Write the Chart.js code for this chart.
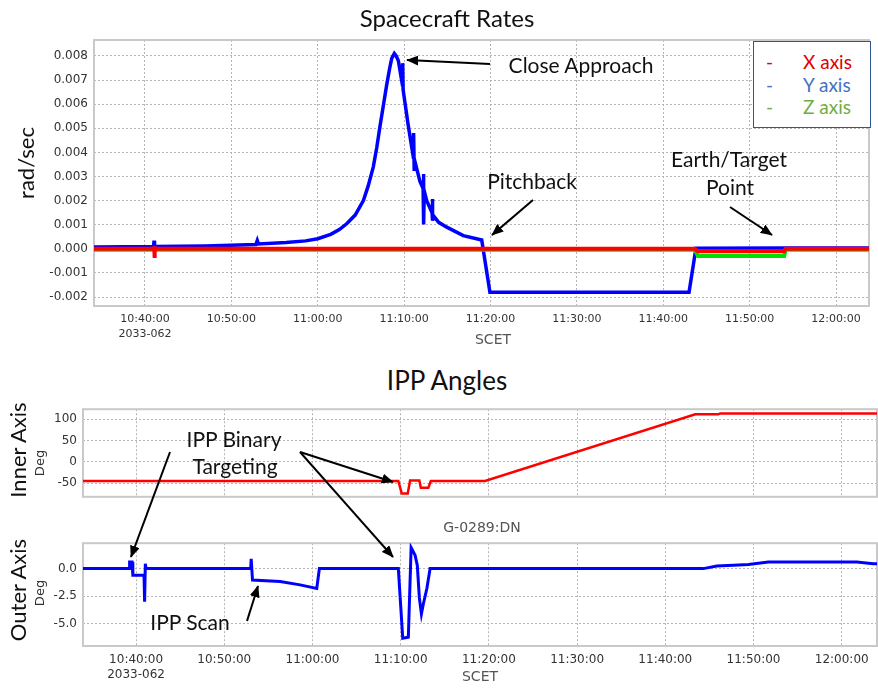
<!DOCTYPE html>
<html>
<head>
<meta charset="utf-8">
<script src="https://cdn.jsdelivr.net/npm/chart.js@4.4.0/dist/chart.umd.min.js"></script>
<style>
    body { margin: 0; width: 878px; height: 688px; position: relative; background: #fff; overflow: hidden; }
    canvas { position: absolute; left: 0; }
    .txt { position: absolute; white-space: nowrap; transform: translate(-50%, -50%); text-align: center; }
    .note { font-family: Lato, sans-serif; font-size: 21px; color: #111; line-height: 21px; }
    .title { font-family: Lato, sans-serif; font-size: 26px; color: #111; line-height: 26px; }
    .small { font-family: 'DejaVu Sans', sans-serif; font-size: 14px; color: #555; line-height: 14px; }
    .vert { transform: translate(-50%, -50%) rotate(-90deg); }
    .axisName { font-family: Lato, sans-serif; font-size: 22px; color: #111; line-height: 22px; }
    .deg { font-family: 'DejaVu Sans', sans-serif; font-size: 13px; color: #333; line-height: 13px; }
    #legend { position: absolute; left: 753px; top: 41px; width: 118px; height: 87px; border: 1.5px solid #2f5597; background: #fff;
        font-family: Lato, sans-serif; font-size: 19px; line-height: 22.5px; padding-top: 9px; box-sizing: border-box; }
    #legend div { position: relative; height: 22.5px; }
    #legend .dash { position: absolute; left: 12px; }
    #legend .lab { position: absolute; left: 49px; }
    svg { position: absolute; left: 0; top: 0; }
</style>
</head>
<body>
<canvas id="rates" width="878" height="350" style="top:0"></canvas>
<canvas id="inner" width="878" height="114" style="top:396px"></canvas>
<canvas id="outer" width="878" height="158" style="top:530px"></canvas>

<div class="txt title" style="left:447px;top:18px;font-size:24px">Spacecraft Rates</div>
<div class="txt title" style="left:447px;top:380px">IPP Angles</div>
<div class="txt axisName vert" style="left:26px;top:163px">rad/sec</div>
<div class="txt small" style="left:493px;top:339px">SCET</div>
<div class="txt small" style="left:480px;top:676px">SCET</div>
<div class="txt small" style="left:482px;top:527px">G-0289:DN</div>
<div class="txt axisName vert" style="left:18px;top:450px">Inner Axis</div>
<div class="txt deg vert" style="left:39px;top:463px">Deg</div>
<div class="txt axisName vert" style="left:18px;top:590px">Outer Axis</div>
<div class="txt deg vert" style="left:39px;top:593px">Deg</div>

<div id="legend">
    <div style="color:#e00000"><span class="dash">-</span><span class="lab">X axis</span></div>
    <div style="color:#4472c4"><span class="dash">-</span><span class="lab">Y axis</span></div>
    <div style="color:#70ad47"><span class="dash">-</span><span class="lab">Z axis</span></div>
</div>

<div class="txt note" style="left:581px;top:64px">Close Approach</div>
<div class="txt note" style="left:532px;top:180px">Pitchback</div>
<div class="txt note" style="left:729px;top:158px">Earth/Target</div>
<div class="txt note" style="left:730px;top:186px">Point</div>
<div class="txt note" style="left:234px;top:438px">IPP Binary</div>
<div class="txt note" style="left:235px;top:465px">Targeting</div>
<div class="txt note" style="left:190px;top:621px">IPP Scan</div>

<svg width="878" height="688">
    <defs>
        <marker id="ah" markerWidth="6" markerHeight="5" refX="5.6" refY="2.5" orient="auto" markerUnits="strokeWidth">
            <path d="M0,0 L6,2.5 L0,5 z" fill="#000"/>
        </marker>
    </defs>
    <g stroke="#000" stroke-width="2" marker-end="url(#ah)">
        <line x1="490" y1="64" x2="407" y2="60"/>
        <line x1="533" y1="200" x2="492" y2="235"/>
        <line x1="730" y1="207" x2="772" y2="235"/>
        <line x1="170" y1="452" x2="131" y2="557"/>
        <line x1="300" y1="452" x2="393" y2="482"/>
        <line x1="300" y1="452" x2="393" y2="557"/>
        <line x1="247" y1="621" x2="258" y2="586"/>
    </g>
</svg>

<script>
// Axis ticks
const timeTicks = ['10:40:00', '10:50:00', '11:00:00', '11:10:00', '11:20:00', '11:30:00', '11:40:00', '11:50:00', '12:00:00'];
const dayLabel = '2033-062';
const rateTicks = [-0.002, -0.001, 0, 0.001, 0.002, 0.003, 0.004, 0.005, 0.006, 0.007, 0.008];
const innerTicks = [-50, 0, 50, 100];
const outerTicks = [-5, -2.5, 0];

// Spacecraft rates (rad/sec)
const xAxisTimes = ['10:34:06', '10:41:02', '10:41:04', '10:41:06', '10:41:09', '11:43:40', '11:44:00', '11:54:00', '11:54:10', '12:03:49'];
const xAxisRates = [0, 0, 0.0001, -0.00038, 0, 0, -0.0001, -0.0001, 0, 0];

const yAxisTimes = ['10:34:06', '10:41:00', '10:41:03', '10:41:05', '10:41:08', '10:47:00', '10:52:50', '10:53:00', '10:53:08',
    '10:56:20', '10:58:36', '11:00:00', '11:01:30', '11:02:30', '11:03:21', '11:04:20', '11:05:17', '11:05:50', '11:06:26',
    '11:06:50', '11:07:13', '11:07:40', '11:07:59', '11:08:20', '11:08:34', '11:08:52', '11:09:05', '11:09:20', '11:09:48',
    '11:09:50', '11:09:53', '11:10:29', '11:11:04',
    '11:11:06', '11:11:10', '11:11:12', '11:11:50', '11:12:12', '11:12:14', '11:12:17', '11:12:20', '11:12:37', '11:13:14',
    '11:13:16', '11:13:19', '11:13:23', '11:14:00', '11:14:56', '11:16:51', '11:18:59', '11:19:56', '11:42:59', '11:43:47',
    '11:54:00', '12:03:49'];
const yAxisRates = [0.00008, 0.0001, 0.00034, -0.00005, 0.0001, 0.00012, 0.00018, 0.00035, 0.0002,
    0.00026, 0.00033, 0.00042, 0.0006, 0.0008, 0.00104, 0.0014, 0.002, 0.0026, 0.0034,
    0.0042, 0.0051, 0.0061, 0.0068, 0.0075, 0.0079, 0.0081, 0.0080, 0.0078, 0.0068,
    0.0077, 0.0066, 0.0051, 0.0038,
    0.0048, 0.0033, 0.0037, 0.0028, 0.0025, 0.0031, 0.00101, 0.0024, 0.002, 0.0015,
    0.00207, 0.00117, 0.00138, 0.0011, 0.0009, 0.00055, 0.00037, -0.0018, -0.0018, 0.00003,
    0.00004, 0.00004];

const zAxisTimes = ['10:34:06', '11:43:40', '11:44:01', '11:54:00', '11:54:10', '12:03:49'];
const zAxisRates = [-0.00004, -0.00004, -0.0003, -0.0003, -0.00004, -0.00004];

// IPP angles (deg)
const innerTimes = ['10:33:59', '11:09:44', '11:10:07', '11:10:48', '11:11:04', '11:12:07', '11:12:17', '11:13:08', '11:13:25',
    '11:19:34', '11:43:24', '11:46:00', '11:46:13', '12:04:00'];
const innerAngles = [-45, -45, -74, -74, -44, -44, -61, -61, -45, -45, 111, 111, 113, 113];

const outerTimes = ['10:33:59', '10:39:14', '10:39:16', '10:39:33', '10:39:38', '10:40:54', '10:40:58', '10:41:03', '10:41:08',
    '10:53:00', '10:53:03', '10:53:12', '10:56:20', '10:58:36', '11:00:29', '11:00:47', '11:09:44', '11:10:14', '11:10:52',
    '11:11:11', '11:11:38', '11:11:53', '11:12:07', '11:12:21', '11:12:34', '11:12:58', '11:13:20', '11:44:19', '11:45:50',
    '11:47:43', '11:49:25', '11:51:41', '12:01:43', '12:03:34', '12:04:00'];
const outerAngles = [0, 0, 0.6, 0.6, -0.6, -0.6, -3.0, 0.44, 0,
    0, 0.88, -1.03, -1.17, -1.47, -1.8, 0, 0, -6.3, -6.2,
    1.9, 1.2, 0.3, -2.65, -4.1, -3.2, -1.8, 0, 0, 0.24,
    0.3, 0.37, 0.59, 0.59, 0.44, 0.44];

function toSec(t) {
    const p = t.split(':').map(Number);
    return p[0] * 3600 + p[1] * 60 + p[2];
}
function points(times, vals) {
    return times.map((t, i) => ({ x: toSec(t), y: vals[i] }));
}

// grey box around the plot area
const framePlugin = {
    id: 'frame',
    beforeDatasetsDraw(chart) {
        const { ctx, chartArea: a } = chart;
        ctx.save();
        ctx.strokeStyle = '#c9c9c9';
        ctx.lineWidth = 2;
        ctx.strokeRect(a.left, a.top, a.right - a.left, a.bottom - a.top);
        ctx.restore();
    }
};

function gridOpts() {
    return { display: true, color: '#b4b4b4', lineWidth: 1, drawTicks: false };
}
function borderOpts() {
    return { display: false, dash: [2, 2] };
}

function timeAxis(range, showLabels, fontSize, lineHeight, height) {
    return {
        type: 'linear',
        min: toSec(range[0]),
        max: toSec(range[1]),
        grid: gridOpts(),
        border: borderOpts(),
        afterBuildTicks: s => { s.ticks = timeTicks.map(t => ({ value: toSec(t) })); },
        afterFit: s => { s.height = height; },
        ticks: {
            display: showLabels,
            autoSkip: false,
            maxRotation: 0,
            padding: 6,
            color: '#333',
            font: { family: 'DejaVu Sans', size: fontSize, lineHeight: lineHeight },
            callback: (v, i) => i === 0 ? [timeTicks[i], dayLabel] : timeTicks[i]
        }
    };
}

function valueAxis(min, max, tickVals, width, fmt) {
    return {
        min: min,
        max: max,
        grid: gridOpts(),
        border: borderOpts(),
        afterBuildTicks: s => { s.ticks = tickVals.map(v => ({ value: v })); },
        afterFit: s => { s.width = width; },
        ticks: {
            padding: 6,
            color: '#333',
            font: { family: 'DejaVu Sans', size: 12 },
            callback: (v, i) => fmt(tickVals[i])
        }
    };
}

function lineSet(data, color, width) {
    return { data: data, borderColor: color, backgroundColor: color, borderWidth: width, pointRadius: 0, tension: 0, fill: false };
}

const baseOptions = {
    responsive: false,
    animation: false,
    events: [],
    plugins: { legend: { display: false }, tooltip: { enabled: false } }
};

// Spacecraft Rates
new Chart(document.getElementById('rates'), {
    type: 'line',
    data: {
        datasets: [
            lineSet(points(xAxisTimes, xAxisRates), '#ff0000', 4),
            lineSet(points(zAxisTimes, zAxisRates), '#00e000', 4),
            lineSet(points(yAxisTimes, yAxisRates), '#0000ff', 3.5)
        ]
    },
    options: {
        ...baseOptions,
        layout: { padding: { top: 40, right: 9, left: 0, bottom: 0 } },
        scales: {
            x: timeAxis(['10:34:06', '12:03:49'], true, 11, 1.36, 44),
            y: valueAxis(-0.00237, 0.00866, rateTicks, 94, v => v.toFixed(3))
        }
    },
    plugins: [framePlugin]
});

// IPP Angles - inner axis
new Chart(document.getElementById('inner'), {
    type: 'line',
    data: { datasets: [lineSet(points(innerTimes, innerAngles), '#ff0000', 2.5)] },
    options: {
        ...baseOptions,
        layout: { padding: { top: 8, right: 1, left: 0, bottom: 3 } },
        scales: {
            x: timeAxis(['10:33:59', '12:04:00'], false, 12, 1.25, 0),
            y: valueAxis(-82, 123, innerTicks, 83, v => String(v))
        }
    },
    plugins: [framePlugin]
});

// IPP Angles - outer axis
new Chart(document.getElementById('outer'), {
    type: 'line',
    data: { datasets: [lineSet(points(outerTimes, outerAngles), '#0000ff', 3)] },
    options: {
        ...baseOptions,
        layout: { padding: { top: 11, right: 1, left: 0, bottom: 0 } },
        scales: {
            x: timeAxis(['10:33:59', '12:04:00'], true, 12, 1.25, 42),
            y: valueAxis(-7.0, 2.3, outerTicks, 83, v => v.toFixed(1))
        }
    },
    plugins: [framePlugin]
});
</script>
</body>
</html>
